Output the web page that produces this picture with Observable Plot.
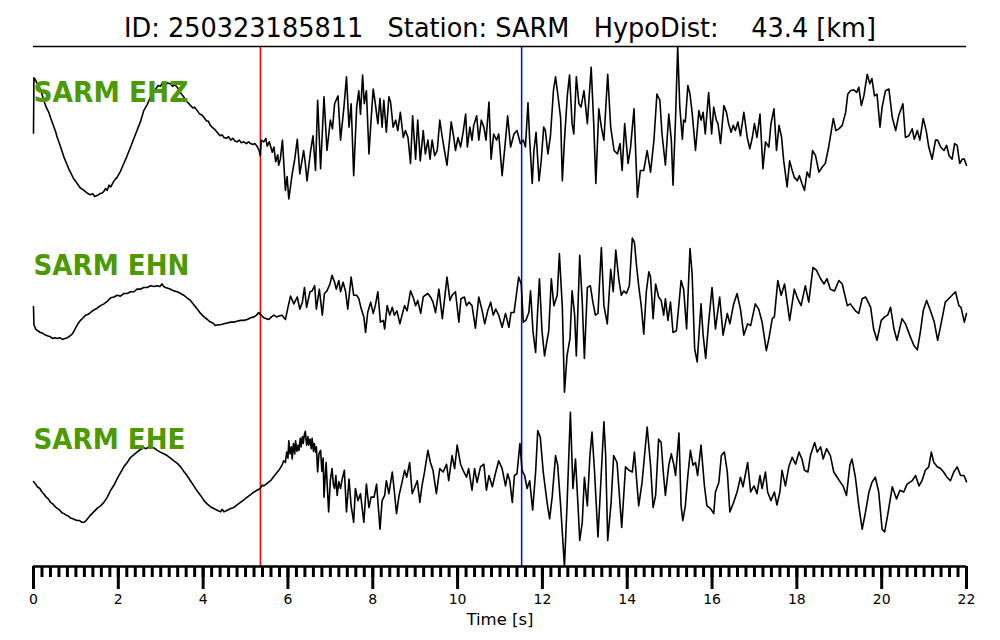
<!DOCTYPE html>
<html><head><meta charset="utf-8">
<script src="https://cdn.jsdelivr.net/npm/d3@7"></script>
<script src="https://cdn.jsdelivr.net/npm/@observablehq/plot@0.6"></script>
<style>
html,body{margin:0;padding:0;background:#fff;}
svg text{white-space:pre;}
</style></head><body><div id="chart"></div>
<script>
const title = "ID: 250323185811   Station: SARM   HypoDist:    43.4 [km]";
const channels = ["SARM EHZ", "SARM EHN", "SARM EHE"];
const offsets = [2, 0, -2];
const pPick = 5.35;
const sPick = 11.51;
const majorTicks = [0, 2, 4, 6, 8, 10, 12, 14, 16, 18, 20, 22];
const minorStep = 0.2;
const xLabel = "Time [s]";

// [time s, normalized amplitude]
const ehz = [[0.00,0.00],[0.01,0.64],[0.04,0.62],[0.08,0.58],[0.12,0.55],[0.17,0.50],[0.24,0.38],[0.30,0.30],[0.36,0.24],[0.40,0.18],[0.46,0.10],[0.52,0.02],[0.56,-0.05],[0.62,-0.13],[0.68,-0.22],[0.72,-0.28],[0.78,-0.35],[0.84,-0.42],[0.87,-0.45],[0.94,-0.52],[1.03,-0.58],[1.10,-0.63],[1.19,-0.66],[1.26,-0.69],[1.34,-0.71],[1.40,-0.70],[1.44,-0.73],[1.50,-0.72],[1.56,-0.70],[1.62,-0.69],[1.66,-0.67],[1.70,-0.64],[1.74,-0.66],[1.78,-0.60],[1.82,-0.62],[1.90,-0.55],[1.97,-0.51],[2.05,-0.44],[2.13,-0.35],[2.20,-0.27],[2.29,-0.16],[2.36,-0.07],[2.44,0.03],[2.52,0.13],[2.60,0.26],[2.68,0.33],[2.76,0.42],[2.82,0.48],[2.88,0.51],[2.94,0.55],[2.99,0.54],[3.04,0.58],[3.10,0.55],[3.16,0.58],[3.23,0.57],[3.28,0.54],[3.33,0.56],[3.39,0.53],[3.46,0.47],[3.54,0.42],[3.60,0.37],[3.65,0.35],[3.70,0.32],[3.76,0.29],[3.80,0.30],[3.86,0.26],[3.92,0.22],[3.97,0.21],[4.02,0.18],[4.08,0.14],[4.12,0.14],[4.17,0.09],[4.23,0.06],[4.28,0.04],[4.33,0.01],[4.40,-0.03],[4.45,-0.02],[4.49,-0.05],[4.55,-0.06],[4.60,-0.04],[4.65,-0.08],[4.70,-0.06],[4.75,-0.09],[4.80,-0.10],[4.85,-0.08],[4.90,-0.11],[4.96,-0.10],[5.02,-0.12],[5.07,-0.10],[5.12,-0.12],[5.17,-0.13],[5.22,-0.12],[5.27,-0.15],[5.32,-0.20],[5.35,-0.26],[5.37,-0.08],[5.43,-0.10],[5.48,-0.06],[5.51,-0.15],[5.56,-0.10],[5.63,-0.22],[5.67,-0.16],[5.71,-0.33],[5.76,-0.25],[5.78,-0.37],[5.82,-0.30],[5.87,-0.08],[5.94,-0.66],[5.98,-0.50],[6.02,-0.76],[6.10,-0.47],[6.16,-0.30],[6.22,-0.07],[6.28,-0.47],[6.37,-0.20],[6.41,-0.35],[6.45,-0.55],[6.53,-0.22],[6.59,-0.03],[6.65,-0.43],[6.70,0.38],[6.77,-0.41],[6.85,0.42],[6.92,-0.20],[7.00,0.15],[7.05,0.05],[7.10,0.34],[7.18,0.43],[7.24,-0.08],[7.32,0.30],[7.38,0.65],[7.44,0.07],[7.49,0.34],[7.55,-0.49],[7.62,0.30],[7.67,0.49],[7.71,0.22],[7.76,0.67],[7.80,0.34],[7.85,0.49],[7.91,-0.24],[7.96,0.15],[8.01,0.51],[8.06,0.34],[8.12,0.11],[8.17,0.40],[8.22,0.07],[8.26,0.38],[8.32,0.01],[8.38,0.42],[8.42,0.36],[8.48,0.07],[8.54,0.15],[8.59,0.03],[8.65,0.24],[8.72,-0.05],[8.77,0.03],[8.83,-0.05],[8.89,-0.35],[8.94,0.20],[9.01,-0.30],[9.06,0.15],[9.12,-0.32],[9.19,0.03],[9.24,-0.24],[9.30,-0.08],[9.35,-0.30],[9.40,-0.08],[9.46,-0.26],[9.52,-0.20],[9.58,0.15],[9.64,-0.05],[9.69,-0.20],[9.75,-0.37],[9.81,-0.08],[9.85,0.13],[9.91,-0.05],[9.95,-0.20],[10.01,-0.05],[10.07,-0.16],[10.13,0.01],[10.19,0.22],[10.23,-0.16],[10.29,0.07],[10.34,-0.08],[10.38,0.09],[10.45,0.20],[10.50,-0.08],[10.56,0.15],[10.62,0.07],[10.67,-0.08],[10.74,0.36],[10.79,-0.30],[10.85,-0.01],[10.92,-0.08],[10.97,-0.01],[11.05,-0.49],[11.13,-0.08],[11.18,0.20],[11.25,-0.16],[11.33,-0.01],[11.40,0.03],[11.48,-0.12],[11.55,-0.08],[11.60,-0.16],[11.66,0.35],[11.70,-0.08],[11.76,-0.58],[11.80,-0.20],[11.85,0.01],[11.92,-0.55],[11.97,-0.33],[12.03,0.07],[12.07,0.03],[12.13,-0.24],[12.19,-0.03],[12.26,0.49],[12.31,0.65],[12.37,0.42],[12.43,0.17],[12.47,-0.55],[12.52,-0.08],[12.59,0.45],[12.64,0.67],[12.70,0.11],[12.74,-0.01],[12.80,0.65],[12.86,0.34],[12.91,0.30],[12.98,0.49],[13.06,0.11],[13.15,0.76],[13.21,0.11],[13.26,-0.58],[13.33,0.28],[13.39,0.07],[13.45,-0.08],[13.54,0.68],[13.61,0.07],[13.69,-0.20],[13.77,-0.24],[13.83,-0.12],[13.88,-0.43],[13.94,0.11],[14.02,-0.35],[14.08,-0.16],[14.16,0.28],[14.24,-0.74],[14.31,-0.43],[14.39,-0.43],[14.47,-0.20],[14.55,-0.45],[14.63,-0.08],[14.70,0.45],[14.77,0.38],[14.82,-0.01],[14.90,-0.37],[14.98,0.22],[15.04,-0.08],[15.08,-0.60],[15.14,0.18],[15.19,1.00],[15.24,0.30],[15.30,-0.07],[15.33,0.15],[15.37,0.13],[15.43,0.55],[15.48,0.45],[15.53,0.24],[15.61,-0.20],[15.69,0.26],[15.74,0.15],[15.79,0.24],[15.84,-0.01],[15.92,0.47],[15.99,-0.01],[16.04,0.30],[16.10,0.15],[16.14,0.11],[16.20,-0.12],[16.28,0.32],[16.34,0.24],[16.39,0.11],[16.45,0.01],[16.50,0.09],[16.55,0.03],[16.61,0.13],[16.67,-0.03],[16.75,0.24],[16.83,-0.05],[16.89,-0.18],[16.95,-0.05],[17.00,0.11],[17.06,-0.05],[17.13,0.22],[17.20,-0.41],[17.26,-0.10],[17.34,-0.16],[17.39,0.11],[17.46,0.28],[17.52,-0.20],[17.58,0.09],[17.64,-0.05],[17.69,-0.32],[17.77,-0.62],[17.83,-0.32],[17.89,-0.43],[17.94,-0.51],[18.01,-0.55],[18.06,-0.49],[18.12,-0.58],[18.18,-0.66],[18.24,-0.45],[18.30,-0.51],[18.37,-0.20],[18.44,-0.26],[18.52,-0.45],[18.60,-0.39],[18.67,-0.35],[18.75,-0.16],[18.86,0.17],[18.92,0.03],[18.99,0.05],[19.07,0.09],[19.15,0.24],[19.20,0.45],[19.26,0.49],[19.34,0.50],[19.41,0.47],[19.46,0.53],[19.52,0.32],[19.58,0.43],[19.66,0.68],[19.72,0.57],[19.77,0.63],[19.83,0.43],[19.89,0.45],[19.96,0.07],[20.01,0.30],[20.09,0.49],[20.17,0.51],[20.25,0.18],[20.33,0.03],[20.40,0.20],[20.50,0.34],[20.56,-0.05],[20.64,-0.03],[20.72,0.05],[20.77,-0.07],[20.84,0.03],[20.90,-0.08],[20.98,0.17],[21.05,0.03],[21.11,-0.16],[21.19,-0.30],[21.27,-0.08],[21.32,-0.08],[21.39,-0.16],[21.47,-0.20],[21.53,-0.14],[21.59,-0.26],[21.66,-0.30],[21.72,-0.12],[21.78,-0.14],[21.84,-0.35],[21.90,-0.30],[21.95,-0.30],[22.00,-0.37]];

const ehn = [[0.00,0.00],[0.01,-0.21],[0.05,-0.26],[0.10,-0.28],[0.16,-0.30],[0.22,-0.31],[0.28,-0.33],[0.34,-0.34],[0.40,-0.35],[0.45,-0.37],[0.50,-0.36],[0.56,-0.37],[0.62,-0.36],[0.68,-0.38],[0.74,-0.37],[0.80,-0.36],[0.86,-0.34],[0.91,-0.32],[0.96,-0.28],[1.00,-0.24],[1.06,-0.19],[1.11,-0.16],[1.17,-0.13],[1.23,-0.10],[1.29,-0.09],[1.34,-0.07],[1.42,-0.04],[1.50,-0.02],[1.58,0.01],[1.66,0.03],[1.74,0.06],[1.82,0.10],[1.90,0.11],[1.97,0.13],[2.05,0.12],[2.13,0.15],[2.21,0.15],[2.29,0.17],[2.37,0.17],[2.44,0.20],[2.52,0.20],[2.60,0.22],[2.68,0.22],[2.76,0.24],[2.84,0.23],[2.92,0.24],[2.98,0.23],[3.03,0.26],[3.07,0.23],[3.11,0.22],[3.17,0.21],[3.23,0.20],[3.31,0.18],[3.39,0.17],[3.47,0.15],[3.54,0.13],[3.62,0.10],[3.70,0.07],[3.78,0.02],[3.86,-0.03],[3.94,-0.08],[4.02,-0.12],[4.10,-0.15],[4.17,-0.18],[4.23,-0.19],[4.29,-0.22],[4.35,-0.21],[4.41,-0.21],[4.49,-0.20],[4.57,-0.19],[4.65,-0.18],[4.72,-0.18],[4.80,-0.17],[4.88,-0.16],[4.96,-0.16],[5.04,-0.15],[5.12,-0.13],[5.20,-0.12],[5.26,-0.10],[5.31,-0.07],[5.37,-0.10],[5.43,-0.13],[5.49,-0.14],[5.55,-0.15],[5.61,-0.12],[5.67,-0.10],[5.73,-0.12],[5.79,-0.11],[5.86,-0.10],[5.94,-0.15],[6.00,-0.01],[6.06,0.12],[6.14,0.03],[6.22,0.11],[6.28,-0.03],[6.34,0.05],[6.39,0.22],[6.44,-0.01],[6.52,0.17],[6.57,0.18],[6.63,0.24],[6.67,-0.03],[6.74,0.20],[6.81,-0.10],[6.86,0.15],[6.92,0.18],[6.99,0.26],[7.04,0.36],[7.10,0.28],[7.14,0.20],[7.20,0.30],[7.24,0.17],[7.30,0.28],[7.36,0.17],[7.41,-0.03],[7.49,0.34],[7.55,0.13],[7.62,0.13],[7.67,0.09],[7.73,-0.03],[7.79,-0.12],[7.83,-0.30],[7.88,-0.07],[7.95,0.05],[8.01,-0.08],[8.06,0.01],[8.12,0.17],[8.18,-0.18],[8.25,-0.16],[8.28,-0.26],[8.34,0.01],[8.40,-0.10],[8.46,-0.01],[8.51,-0.10],[8.57,-0.05],[8.64,-0.20],[8.69,-0.10],[8.75,0.01],[8.81,-0.05],[8.89,0.18],[8.95,0.11],[9.01,0.01],[9.06,0.07],[9.13,-0.08],[9.19,0.11],[9.24,0.13],[9.30,0.15],[9.36,0.11],[9.42,0.05],[9.48,-0.07],[9.56,0.20],[9.64,-0.14],[9.69,0.07],[9.75,0.34],[9.82,0.07],[9.87,0.13],[9.95,0.17],[10.03,-0.18],[10.08,0.09],[10.16,0.11],[10.21,0.01],[10.27,0.05],[10.34,0.01],[10.42,-0.25],[10.50,0.11],[10.58,-0.05],[10.64,-0.20],[10.71,-0.05],[10.78,0.05],[10.84,-0.10],[10.90,-0.03],[10.97,-0.10],[11.05,-0.24],[11.13,-0.08],[11.21,-0.24],[11.26,-0.07],[11.33,-0.07],[11.39,0.15],[11.44,0.34],[11.50,0.26],[11.55,-0.18],[11.61,-0.16],[11.68,-0.07],[11.72,0.18],[11.78,-0.30],[11.84,-0.53],[11.89,-0.03],[11.93,0.32],[11.99,-0.28],[12.05,-0.57],[12.11,-0.39],[12.15,-0.28],[12.21,0.32],[12.27,0.01],[12.35,0.13],[12.40,0.61],[12.47,-0.01],[12.52,-0.99],[12.58,-0.57],[12.65,-0.37],[12.70,0.18],[12.76,-0.10],[12.80,-0.57],[12.88,0.59],[12.94,0.05],[12.99,-0.60],[13.06,0.22],[13.13,0.24],[13.19,0.05],[13.25,-0.10],[13.31,-0.08],[13.39,0.68],[13.45,0.01],[13.53,-0.20],[13.61,0.43],[13.67,0.17],[13.73,0.65],[13.80,0.32],[13.86,0.13],[13.92,0.18],[13.98,0.15],[14.05,0.24],[14.12,0.79],[14.17,0.74],[14.22,0.47],[14.27,0.24],[14.33,0.01],[14.39,-0.32],[14.45,0.17],[14.51,0.40],[14.55,0.34],[14.61,-0.14],[14.67,0.26],[14.74,0.11],[14.80,0.07],[14.86,-0.10],[14.90,0.09],[14.96,-0.16],[15.02,0.05],[15.08,-0.30],[15.16,-0.28],[15.22,0.03],[15.27,0.30],[15.33,0.20],[15.40,-0.26],[15.48,0.67],[15.53,0.38],[15.59,-0.49],[15.65,-0.64],[15.74,0.03],[15.79,-0.33],[15.85,-0.60],[15.92,-0.18],[16.00,0.22],[16.08,-0.26],[16.18,0.11],[16.26,-0.33],[16.36,-0.08],[16.42,-0.20],[16.51,0.03],[16.59,0.15],[16.67,-0.03],[16.75,-0.33],[16.84,-0.20],[16.91,-0.22],[17.02,0.03],[17.10,-0.03],[17.18,-0.18],[17.28,-0.51],[17.34,-0.37],[17.42,-0.14],[17.47,-0.12],[17.55,0.30],[17.63,0.13],[17.71,0.26],[17.83,-0.16],[17.94,0.20],[18.02,0.09],[18.10,0.01],[18.20,0.24],[18.28,0.05],[18.38,0.45],[18.46,0.42],[18.56,0.32],[18.64,0.26],[18.71,0.32],[18.79,0.20],[18.89,0.18],[18.99,0.30],[19.07,0.26],[19.19,0.01],[19.26,0.03],[19.38,-0.05],[19.46,-0.08],[19.54,0.09],[19.62,0.11],[19.74,-0.01],[19.81,-0.26],[19.89,-0.39],[19.99,-0.16],[20.07,-0.12],[20.14,-0.10],[20.21,-0.01],[20.29,-0.26],[20.36,-0.39],[20.48,-0.14],[20.56,-0.20],[20.66,-0.33],[20.76,-0.45],[20.84,-0.50],[20.91,-0.30],[20.98,-0.05],[21.06,0.07],[21.15,-0.05],[21.24,-0.18],[21.32,-0.39],[21.40,-0.20],[21.50,0.05],[21.58,0.09],[21.66,0.13],[21.74,0.17],[21.82,0.01],[21.87,-0.01],[21.95,-0.18],[22.00,-0.08]];

const ehe = [[0.00,-0.02],[0.05,-0.05],[0.09,-0.08],[0.15,-0.10],[0.20,-0.14],[0.24,-0.16],[0.30,-0.20],[0.35,-0.22],[0.40,-0.26],[0.46,-0.28],[0.51,-0.31],[0.56,-0.33],[0.62,-0.35],[0.67,-0.38],[0.72,-0.39],[0.78,-0.41],[0.83,-0.42],[0.87,-0.44],[0.93,-0.45],[0.98,-0.46],[1.03,-0.47],[1.09,-0.47],[1.14,-0.49],[1.19,-0.49],[1.24,-0.47],[1.29,-0.44],[1.34,-0.41],[1.42,-0.37],[1.50,-0.33],[1.58,-0.30],[1.66,-0.26],[1.74,-0.20],[1.82,-0.12],[1.90,-0.06],[1.97,0.01],[2.05,0.08],[2.13,0.15],[2.21,0.20],[2.29,0.26],[2.37,0.29],[2.44,0.32],[2.52,0.35],[2.60,0.37],[2.66,0.36],[2.72,0.38],[2.78,0.37],[2.84,0.37],[2.92,0.34],[2.99,0.32],[3.07,0.30],[3.15,0.28],[3.23,0.25],[3.31,0.22],[3.39,0.19],[3.47,0.15],[3.54,0.10],[3.62,0.05],[3.70,-0.01],[3.78,-0.07],[3.86,-0.13],[3.94,-0.18],[4.02,-0.24],[4.10,-0.28],[4.17,-0.31],[4.25,-0.33],[4.33,-0.35],[4.41,-0.37],[4.45,-0.34],[4.49,-0.37],[4.57,-0.35],[4.65,-0.33],[4.72,-0.32],[4.80,-0.29],[4.88,-0.26],[4.96,-0.23],[5.04,-0.20],[5.12,-0.17],[5.20,-0.14],[5.27,-0.12],[5.35,-0.10],[5.39,-0.06],[5.43,-0.07],[5.51,-0.04],[5.59,-0.01],[5.67,0.04],[5.75,0.09],[5.80,0.12],[5.86,0.17],[5.90,0.22],[5.94,0.20],[5.97,0.32],[6.00,0.25],[6.02,0.45],[6.05,0.30],[6.08,0.38],[6.10,0.24],[6.13,0.42],[6.16,0.30],[6.18,0.45],[6.21,0.33],[6.24,0.40],[6.26,0.34],[6.29,0.48],[6.31,0.38],[6.34,0.50],[6.36,0.42],[6.39,0.53],[6.41,0.56],[6.44,0.40],[6.47,0.50],[6.49,0.40],[6.52,0.47],[6.55,0.36],[6.57,0.48],[6.60,0.33],[6.62,0.42],[6.65,0.32],[6.67,0.38],[6.70,0.09],[6.73,0.30],[6.77,0.34],[6.80,0.10],[6.83,0.25],[6.85,-0.20],[6.88,0.05],[6.90,0.20],[6.93,-0.10],[6.96,-0.37],[7.00,0.00],[7.04,0.13],[7.07,-0.05],[7.10,-0.10],[7.13,0.05],[7.16,-0.18],[7.20,-0.02],[7.24,-0.10],[7.28,0.01],[7.33,0.11],[7.38,-0.37],[7.44,0.01],[7.49,-0.30],[7.55,-0.49],[7.59,-0.10],[7.65,-0.24],[7.71,-0.16],[7.79,-0.49],[7.85,-0.05],[7.91,-0.32],[7.96,-0.20],[8.03,-0.20],[8.09,-0.05],[8.17,-0.57],[8.22,-0.24],[8.28,-0.18],[8.32,-0.01],[8.38,-0.16],[8.46,0.09],[8.51,-0.14],[8.56,-0.39],[8.62,-0.18],[8.69,-0.03],[8.75,0.11],[8.80,0.03],[8.87,0.20],[8.93,-0.16],[8.98,-0.10],[9.05,-0.01],[9.11,-0.26],[9.16,-0.07],[9.22,0.09],[9.30,0.34],[9.36,0.20],[9.42,0.11],[9.50,-0.16],[9.58,0.13],[9.66,0.09],[9.74,0.18],[9.79,-0.01],[9.87,0.28],[9.93,0.13],[9.99,0.40],[10.07,0.18],[10.13,0.11],[10.21,0.03],[10.26,0.13],[10.34,-0.12],[10.40,0.13],[10.46,-0.03],[10.54,0.15],[10.62,0.18],[10.68,-0.12],[10.74,0.05],[10.82,-0.08],[10.89,0.07],[10.97,0.22],[11.05,0.13],[11.13,-0.07],[11.18,0.07],[11.23,-0.01],[11.29,-0.26],[11.34,0.05],[11.40,0.07],[11.47,0.42],[11.52,0.11],[11.58,0.05],[11.64,-0.10],[11.70,-0.01],[11.77,-0.35],[11.84,0.09],[11.89,0.57],[11.95,0.49],[12.02,0.09],[12.11,-0.26],[12.17,-0.45],[12.23,-0.20],[12.31,0.28],[12.36,0.17],[12.43,-0.30],[12.52,-1.00],[12.58,-0.30],[12.66,0.78],[12.72,-0.10],[12.78,0.24],[12.84,-0.30],[12.88,-0.70],[12.94,-0.49],[12.99,0.03],[13.06,-0.30],[13.12,0.28],[13.17,0.55],[13.23,0.09],[13.31,-0.66],[13.37,-0.10],[13.45,0.67],[13.49,0.30],[13.54,-0.70],[13.62,-0.26],[13.68,0.28],[13.76,0.20],[13.87,-0.55],[13.96,0.15],[14.04,0.11],[14.12,0.09],[14.17,0.32],[14.27,-0.30],[14.35,-0.03],[14.47,0.61],[14.55,0.17],[14.61,-0.32],[14.67,-0.18],[14.74,0.47],[14.80,0.43],[14.85,0.09],[14.90,-0.18],[14.98,0.17],[15.04,0.30],[15.10,0.17],[15.14,0.05],[15.22,0.54],[15.27,-0.30],[15.31,-0.47],[15.37,-0.30],[15.43,0.05],[15.49,0.34],[15.55,0.17],[15.61,0.20],[15.66,0.05],[15.74,0.40],[15.82,-0.07],[15.88,-0.30],[15.96,-0.33],[16.04,-0.39],[16.08,-0.14],[16.16,-0.03],[16.22,0.28],[16.29,0.32],[16.36,0.09],[16.42,-0.37],[16.51,-0.26],[16.59,-0.14],[16.67,0.03],[16.73,-0.08],[16.84,0.20],[16.91,-0.14],[16.99,-0.07],[17.06,-0.16],[17.13,0.05],[17.18,-0.10],[17.26,0.09],[17.31,-0.14],[17.39,-0.24],[17.47,-0.14],[17.53,-0.29],[17.60,-0.14],[17.65,0.11],[17.73,-0.07],[17.81,0.15],[17.89,0.26],[17.97,0.18],[18.05,0.32],[18.12,0.24],[18.18,0.11],[18.26,0.09],[18.32,0.28],[18.42,0.43],[18.48,0.32],[18.56,0.38],[18.62,0.24],[18.70,0.36],[18.79,0.28],[18.87,0.09],[18.95,0.03],[19.03,-0.03],[19.09,-0.07],[19.17,-0.18],[19.25,0.17],[19.30,0.24],[19.38,0.03],[19.46,-0.30],[19.54,-0.57],[19.62,-0.37],[19.70,-0.14],[19.77,-0.03],[19.85,0.03],[19.93,-0.14],[20.01,-0.57],[20.07,-0.60],[20.14,-0.41],[20.25,-0.08],[20.35,-0.22],[20.43,-0.12],[20.52,-0.14],[20.60,-0.05],[20.72,-0.01],[20.80,0.05],[20.88,-0.07],[20.95,-0.01],[21.03,0.11],[21.11,0.15],[21.17,0.32],[21.23,0.20],[21.31,0.15],[21.39,0.13],[21.46,0.09],[21.54,0.03],[21.62,-0.01],[21.70,0.09],[21.78,0.15],[21.86,0.05],[21.94,0.05],[22.00,-0.02]];

const traces = [ehz, ehn, ehe];
const rows = traces.flatMap((tr, i) => tr.map(([t, a]) => ({t, v: a + offsets[i], ch: channels[i]})));
const minorTicks = d3.range(0, 22 + 1e-9, minorStep);

const plot = Plot.plot({
  width: 1000, height: 640,
  marginLeft: 33, marginRight: 34, marginTop: 46, marginBottom: 74,
  x: {domain: [0, 22]},
  y: {domain: [-3, 3], axis: null},
  style: {fontFamily: "DejaVu Sans", background: "white", color: "black", overflow: "visible"},
  marks: [
    Plot.ruleX([pPick], {stroke: "#ff0000", strokeWidth: 1.5}),
    Plot.ruleX([sPick], {stroke: "#0000ff", strokeWidth: 1.5}),
    Plot.line(rows, {x: "t", y: "v", z: "ch", stroke: "black", strokeWidth: 1.6, curve: "linear"}),
    Plot.ruleY([3], {stroke: "black", strokeWidth: 1.5}),
    Plot.ruleY([-3], {stroke: "black", strokeWidth: 2.5}),
    Plot.axisX({ticks: minorTicks, tickSize: 11, tickFormat: () => "", label: null, strokeWidth: 3, strokeOpacity: 1}),
    Plot.axisX({ticks: majorTicks, tickSize: 23, tickPadding: 5, fontSize: 14, label: null, strokeWidth: 3, strokeOpacity: 1, tickFormat: d => String(d)}),
    Plot.text(channels, {x: () => 0, y: (d, i) => offsets[i] + 0.465, text: d => d, textAnchor: "start", fontSize: 29, fontWeight: "bold", fill: "#4c9a00"}),
    Plot.text([xLabel], {frameAnchor: "bottom", dy: 58, text: d => d, fontSize: 16.5, fill: "black"}),
    Plot.text([title], {frameAnchor: "top", dy: -28.5, text: d => d, fontSize: 27, fill: "black"})
  ]
});

const widths = {"SARM EHZ": 155, "SARM EHN": 156, "SARM EHE": 152};
widths[title] = 752;
d3.select(plot).selectAll("text").each(function() {
  const s = this.textContent;
  if (widths[s]) {
    this.setAttribute("textLength", widths[s]);
    this.setAttribute("lengthAdjust", "spacingAndGlyphs");
  }
});
document.getElementById("chart").appendChild(plot);
</script></body></html>
